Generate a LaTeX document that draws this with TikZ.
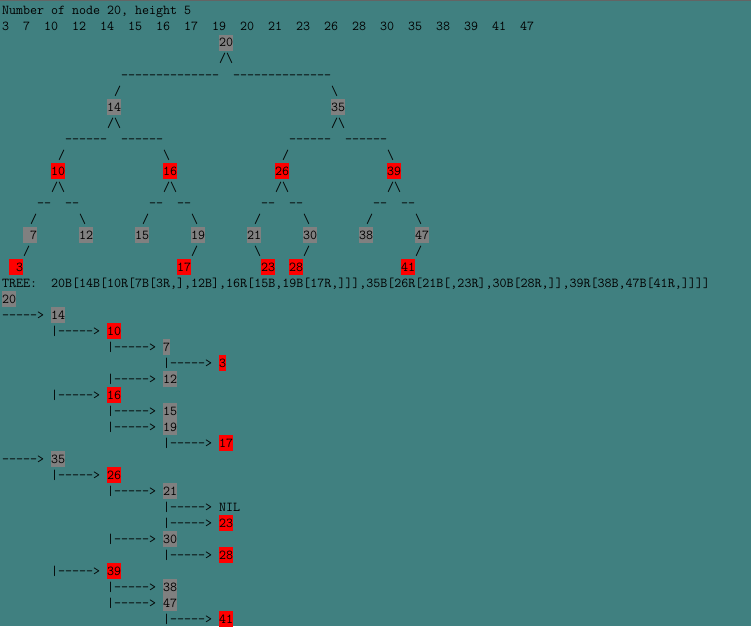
\documentclass[tikz,border=0pt]{standalone}
\definecolor{bg}{RGB}{64,128,128}
\definecolor{boxgray}{RGB}{128,128,128}
\definecolor{boxred}{RGB}{255,0,0}
\definecolor{topgray}{RGB}{100,100,100}
\newcommand\tfont{\ttfamily\fontsize{13.61}{16}\selectfont}
\newcommand\hy{-\kern0pt }
\newcommand\bs{\textbackslash}
\newcommand\dashes[1]{\foreach\i in {1,...,#1}{\hy}}
\tikzset{
 txt/.style={anchor=base west, inner sep=0pt, outer sep=0pt, font=\tfont, text=black},
 gbox/.style={txt, fill=boxgray, text height=12pt, text depth=4pt},
 rbox/.style={gbox, fill=boxred},
}
\newcommand\T[4]{\node[txt] (#3) at ({2+7*(#1)},{15+16*(#2)}) {#4};}
\newcommand\G[4]{\node[gbox] (#3) at ({2+7*(#1)},{15+16*(#2)}) {#4};}
\newcommand\R[4]{\node[rbox] (#3) at ({2+7*(#1)},{15+16*(#2)}) {#4};}
% list line: level, row, style, value, name
\newcommand\Li[5]{%
  \ifnum#1=0 \T{0}{#2}{a#5}{\hy\hy\hy\hy\hy>}\else\T{8*#1-1}{#2}{a#5}{|\hy\hy\hy\hy\hy>}\fi
  \node[#3] (#5) at ({2+7*(8*#1+7)},{15+16*(#2)}) {#4};}
\begin{document}
\begin{tikzpicture}[x=1pt,y=-1pt]
\useasboundingbox (0,0) rectangle (751,626);
\fill[bg] (0,0) rectangle (751,626);
\fill[topgray] (0,0) rectangle (751,1.5);
% header
\T{0}{0}{title}{Number of node 20, height 5}
\foreach \c/\v [count=\k] in {0/3,3/7,6/10,10/12,14/14,18/15,22/16,26/17,30/19,34/20,38/21,42/23,46/26,50/28,54/30,58/35,62/38,66/39,70/41,74/47}
  {\T{\c}{1}{num\k}{\v}}
% level 0
\G{31}{2}{t20}{20}
\T{31}{3}{s20}{/\bs}
\T{17}{4}{d20l}{\dashes{14}}
\T{33}{4}{d20r}{\dashes{14}}
\T{16}{5}{e14}{/}
\T{47}{5}{e35}{\bs}
% level 1
\G{15}{6}{t14}{14}
\G{47}{6}{t35}{35}
\T{15}{7}{s14}{/\bs}
\T{47}{7}{s35}{/\bs}
\T{9}{8}{d14l}{\dashes{6}}
\T{17}{8}{d14r}{\dashes{6}}
\T{41}{8}{d35l}{\dashes{6}}
\T{49}{8}{d35r}{\dashes{6}}
\T{8}{9}{e10}{/}
\T{23}{9}{e16}{\bs}
\T{40}{9}{e26}{/}
\T{55}{9}{e39}{\bs}
% level 2
\R{7}{10}{t10}{10}
\R{23}{10}{t16}{16}
\R{39}{10}{t26}{26}
\R{55}{10}{t39}{39}
\foreach \c [count=\k] in {7,23,39,55}{
  \T{\c}{11}{sl\k}{/\bs}
  \T{\c-2}{12}{dl\k}{\hy\hy}
  \T{\c+2}{12}{dr\k}{\hy\hy}
  \T{\c-3}{13}{el\k}{/}
  \T{\c+4}{13}{er\k}{\bs}
}
% level 3
\G{3}{14}{t7}{\hphantom{0}7}
\G{11}{14}{t12}{12}
\G{19}{14}{t15}{15}
\G{27}{14}{t19}{19}
\G{35}{14}{t21}{21}
\G{43}{14}{t30}{30}
\G{51}{14}{t38}{38}
\G{59}{14}{t47}{47}
\T{3}{15}{e3}{/}
\T{27}{15}{e17}{/}
\T{36}{15}{e23}{\bs}
\T{43}{15}{e28}{/}
\T{59}{15}{e41}{/}
% level 4
\R{1}{16}{t3}{\hphantom{0}3}
\R{25}{16}{t17}{17}
\R{37}{16}{t23}{23}
\R{41}{16}{t28}{28}
\R{57}{16}{t41}{41}
% tree string
\T{0}{17}{treelbl}{TREE:}
\T{7}{17}{treestr}{20B[14B[10R[7B[3R,],12B],16R[15B,19B[17R,]]],35B[26R[21B[,23R],30B[28R,]],39R[38B,47B[41R,]]]]}
% list
\G{0}{18}{r20}{20}
\Li{0}{19}{gbox}{14}{r14}
\Li{1}{20}{rbox}{10}{r10}
\Li{2}{21}{gbox}{7}{r7}
\Li{3}{22}{rbox}{3}{r3}
\Li{2}{23}{gbox}{12}{r12}
\Li{1}{24}{rbox}{16}{r16}
\Li{2}{25}{gbox}{15}{r15}
\Li{2}{26}{gbox}{19}{r19}
\Li{3}{27}{rbox}{17}{r17}
\Li{0}{28}{gbox}{35}{r35}
\Li{1}{29}{rbox}{26}{r26}
\Li{2}{30}{gbox}{21}{r21}
\Li{3}{31}{txt}{NIL}{rnil}
\Li{3}{32}{rbox}{23}{r23}
\Li{2}{33}{gbox}{30}{r30}
\Li{3}{34}{rbox}{28}{r28}
\Li{1}{35}{rbox}{39}{r39}
\Li{2}{36}{gbox}{38}{r38}
\Li{2}{37}{gbox}{47}{r47}
\Li{3}{38}{rbox}{41}{r41}
\end{tikzpicture}
\end{document}
